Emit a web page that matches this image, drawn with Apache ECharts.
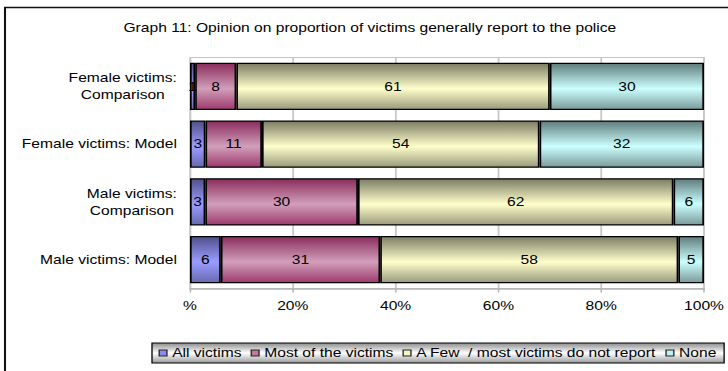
<!DOCTYPE html>
<html>
<head>
<meta charset="utf-8">
<script src="https://cdn.jsdelivr.net/npm/echarts@6/dist/echarts.min.js"></script>
<style>
  html, body { margin: 0; padding: 0; background: #fff; }
  #wrap { width: 728px; height: 371px; overflow: hidden; position: relative; }
  /* chart is laid out narrower and widened, giving the broad lettering of the printed graph */
  #chart { width: 560px; height: 371px; transform: scaleX(1.3); transform-origin: 0 0; }
</style>
</head>
<body>
<div id="wrap"><div id="chart"></div></div>
<script>
// Rows, top to bottom
const categories = [
  'Female victims:\nComparison',
  'Female victims: Model',
  'Male victims:\nComparison',
  'Male victims: Model'
];
// Answer shares (%) per row
const allVictims  = [1, 3, 3, 6];
const mostVictims = [8, 11, 30, 31];
const fewVictims  = [61, 54, 62, 58];
const noVictims   = [30, 32, 6, 5];
const seriesNames = ['All victims', 'Most of the victims', 'A Few\u00a0 / most victims do not report', 'None'];
const xTickLabels = ['%', '20%', '40%', '60%', '80%', '100%'];

const FONT = '"Liberation Sans", Arial, sans-serif';
const SX = 1.3; // horizontal stretch applied to #chart

const seriesValues = [allVictims, mostVictims, fewVictims, noVictims];
const rowTotals = categories.map((_, i) => seriesValues.reduce((s, arr) => s + arr[i], 0));

// vertical shading: dark rim, light body
function shade(top, mid, bottom) {
  return new echarts.graphic.LinearGradient(0, 0, 0, 1, [
    { offset: 0, color: top },
    { offset: 0.55, color: mid },
    { offset: 1, color: bottom }
  ]);
}
const fills = [
  shade('#50508a', '#9c9cff', '#6868b0'),
  shade('#8a2c5c', '#d29fbb', '#9c3a6c'),
  shade('#7c7c64', '#ffffcc', '#9a9a7c'),
  shade('#5f7c7c', '#ccffff', '#7a9a9a')
];
const legendColors = ['#8c8cf0', '#c07a9c', '#f4f4c4', '#c0f0f0'];

// widths of the longest line of each row label, so the lines can be centred on each other
const ctx = document.createElement('canvas').getContext('2d');
ctx.font = '12px ' + FONT;
const rich = {};
categories.forEach((c, i) => {
  const w = Math.max(...c.split('\n').map(l => ctx.measureText(l).width));
  rich['r' + i] = { width: Math.ceil(w) + 1, align: 'center', fontSize: 12, fontFamily: FONT, color: '#000', lineHeight: 17 };
});

const series = seriesNames.map((name, s) => ({
  name,
  type: 'bar',
  stack: 'total',
  barWidth: '82%',
  data: seriesValues[s].map((v, i) => ({ value: v / rowTotals[i] * 100, raw: v })),
  itemStyle: { color: fills[s], borderColor: '#000', borderWidth: 1.3 },
  label: {
    show: true,
    position: 'inside',
    color: '#000',
    fontSize: 12,
    fontFamily: FONT,
    formatter: p => String(p.data.raw)
  },
  emphasis: { disabled: true }
}));

const chart = echarts.init(document.getElementById('chart'), null, { renderer: 'svg' });
chart.setOption({
  animation: false,
  textStyle: { fontFamily: FONT },
  title: {
    text: 'Graph 11: Opinion on proportion of victims generally report to the police',
    left: 90,
    top: 17,
    textStyle: { fontSize: 12, fontWeight: 'normal', color: '#000', fontFamily: FONT }
  },
  graphic: [{
    // frame of the graph: left and top edges
    type: 'polyline',
    shape: { points: [[5 / SX, 420], [5 / SX, 7.5], [700, 7.5]] },
    style: { fill: 'none', stroke: '#111', lineWidth: 1.6 },
    silent: true,
    z: -10
  }],
  legend: {
    data: seriesNames.map((n, i) => ({ name: n, itemStyle: { color: legendColors[i], borderColor: '#222', borderWidth: 1 } })),
    left: 152 / SX,
    right: -12,
    top: 343,
    orient: 'horizontal',
    itemWidth: 6,
    itemHeight: 6,
    itemGap: 7,
    padding: [4, 6, 4, 5],
    icon: 'rect',
    borderColor: '#000',
    borderWidth: 1,
    backgroundColor: new echarts.graphic.LinearGradient(0, 0, 0, 1, [
      { offset: 0, color: '#8c8c8c' },
      { offset: 0.5, color: '#ffffff' },
      { offset: 1, color: '#9a9a9a' }
    ]),
    textStyle: { fontSize: 12, color: '#000', fontFamily: FONT, padding: [0, 0, 0, -1] },
    selectedMode: false
  },
  grid: {
    left: 190 / SX,
    right: 560 - 704 / SX,
    top: 57.5,
    bottom: 371 - 288.5,
    show: true,
    borderColor: '#c4c4c4',
    borderWidth: 1
  },
  xAxis: {
    type: 'value',
    min: 0,
    max: 100,
    interval: 20,
    axisLine: { show: true, lineStyle: { color: '#b4b4b4', width: 1.5 } },
    axisTick: { show: true, length: 4, lineStyle: { color: '#b4b4b4', width: 1.2 } },
    splitLine: { show: true, lineStyle: { color: '#c8c8c8', width: 1.4 } },
    axisLabel: {
      margin: 11,
      fontSize: 12,
      color: '#000',
      fontFamily: FONT,
      formatter: v => xTickLabels[Math.round(v / 20)]
    }
  },
  yAxis: {
    type: 'category',
    inverse: true,
    data: categories,
    axisLine: { show: false },
    axisTick: { show: false },
    axisLabel: {
      margin: 12 / SX,
      fontSize: 12,
      color: '#000',
      fontFamily: FONT,
      lineHeight: 17,
      formatter: (v, i) => v.split('\n').map(l => '{r' + i + '|' + l + '}').join('\n'),
      rich
    }
  },
  series
});
</script>
</body>
</html>
